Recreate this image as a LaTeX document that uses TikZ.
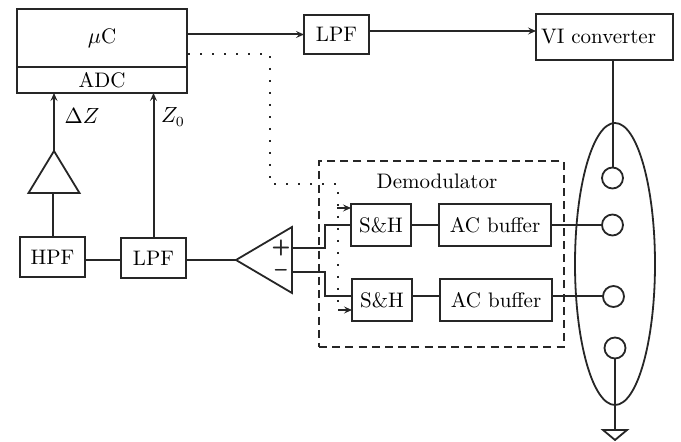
\documentclass[tikz,border=0pt]{standalone}
\usepackage{amsmath}
\usetikzlibrary{shapes,shapes.geometric,arrows.meta}
\usetikzlibrary{positioning,calc}
\tikzset{
	boxNode/.style={
		draw=black!85,
		line width=1pt,
		rectangle,
		inner sep=0pt,
		outer sep=0pt,
		font=\fontsize{10.5}{12}\selectfont
	},
	ampNode/.style={
		draw=black!85,
		line width=0.9pt,
		isosceles triangle,
		isosceles triangle stretches,
		inner sep=0pt,
		outer sep=0pt
	},
	padNode/.style={
		draw=black!85,
		line width=0.9pt,
		circle,
		minimum size=10.5pt,
		inner sep=0pt,
		outer sep=0pt
	},
	sigLine/.style={
		draw=black!85,
		line width=1pt
	},
	sigArrow/.style={
		sigLine,
		-{Stealth[length=4pt, width=3.5pt, inset=1.5pt]}
	},
	clkDots/.style={
		draw=black!85,
		line width=0.8pt,
		dash pattern=on 0.8pt off 5.2pt
	},
	clkArrow/.style={
		draw=black!85,
		line width=0.6pt,
		-{Stealth[length=4pt, width=3.5pt, inset=1.5pt]}
	},
	labelNode/.style={
		inner sep=0pt,
		font=\fontsize{10.5}{12}\selectfont
	},
	signNode/.style={
		text=black!85,
		inner sep=0pt,
		font=\sffamily\bfseries\fontsize{11}{11}\selectfont
	},
}
\begin{document}
\begin{tikzpicture}[x=0.5pt, y=-0.5pt]
\useasboundingbox (0,0) rectangle (681,442);

% controller and top row
\node[boxNode, minimum width=85pt, minimum height=29pt] (uC) at (102,38){$\mu$C};
\node[boxNode, minimum width=85pt, minimum height=13pt] (ADC) at (102,80){ADC};
\node[boxNode, minimum width=32.5pt, minimum height=19.5pt] (topLPF) at (336.5,34.5){LPF};
\node[boxNode, inner xsep=2.5pt, text width=63.5pt, align=left, minimum height=23pt] (VI) at (604.5,37){VI converter};
\coordinate (VIin) at (536,31);

% front end
\node[boxNode, minimum width=32.5pt, minimum height=20pt] (HPF) at (52.5,257){HPF};
\node[boxNode, minimum width=32.5pt, minimum height=20pt] (LPF) at (153.5,258){LPF};
\node[ampNode, shape border rotate=90, minimum width=25.5pt, minimum height=21pt, anchor=apex] (ampSmall) at (54,151){};
\node[ampNode, shape border rotate=180, minimum width=33pt, minimum height=28pt, anchor=apex] (ampBig) at (236,260){};
\node[signNode] (plusSign) at (281,248){+};
\node[signNode] (minusSign) at (281,273){--};
\coordinate (ampP) at (292,248);
\coordinate (ampM) at (292,272);
\coordinate (bend) at (325,260);

% demodulator
\node[draw=black!85, line width=1pt, dash pattern=on 4pt off 2.6pt, rectangle, inner sep=0pt, minimum width=122.5pt, minimum height=93pt] (demod) at (441.5,254){};
\node[labelNode] (demodLabel) at (437,181){Demodulator};
\node[boxNode, minimum width=30pt, minimum height=21pt] (SH1) at (381,225){S\&H};
\node[boxNode, minimum width=30pt, minimum height=21pt] (SH2) at (382,300){S\&H};
\node[boxNode, minimum width=56pt, minimum height=21pt] (AC1) at (495,225){AC buffer};
\node[boxNode, minimum width=56pt, minimum height=21pt] (AC2) at (496,300){AC buffer};
\coordinate (lowRow) at (412,296.5);

% electrodes
\node[draw=black!85, line width=0.9pt, ellipse, inner sep=0pt, minimum width=40pt, minimum height=141pt] (body) at (615,264){};
\node[padNode] (pad1) at (612.5,178){};
\node[padNode] (pad2) at (612.5,225){};
\node[padNode] (pad3) at (613.5,296.5){};
\node[padNode] (pad4) at (615,348){};
\node[ampNode, shape border rotate=270, minimum width=12pt, minimum height=5pt, anchor=apex] (gnd) at (615,440){};

% labels
\node[labelNode] (dZ) at (82,116){$\Delta Z$};
\node[labelNode] (zZero) at (173,117){$Z_0$};

% signal lines
\draw[sigArrow] (uC.east |- topLPF.west) -- (topLPF.west);
\draw[sigArrow] (topLPF.east |- VIin) -- (VIin);
\draw[sigLine] (pad1.north |- VI.south) -- (pad1.north);
\draw[sigLine] (HPF.north) -- (HPF.north |- ampSmall.lower side);
\draw[sigArrow] (ampSmall.apex) -- (ampSmall.apex |- ADC.south);
\draw[sigArrow] (LPF.north) -- (LPF.north |- ADC.south);
\draw[sigLine] (HPF.east |- ampBig.apex) -- (LPF.west |- ampBig.apex);
\draw[sigLine] (LPF.east |- ampBig.apex) -- (ampBig.apex);
\draw[sigLine] (ampP) -- (bend |- ampP) -- (bend |- SH1.west) -- (SH1.west);
\draw[sigLine] (ampM) -- (bend |- ampM) -- (bend |- lowRow) -- (SH2.west |- lowRow);
\draw[sigLine] (SH1.east) -- (AC1.west);
\draw[sigLine] (SH2.east |- lowRow) -- (AC2.west |- lowRow);
\draw[sigLine] (AC1.east) -- (pad2.west);
\draw[sigLine] (AC2.east |- lowRow) -- (pad3.west);
\draw[sigLine] (pad4.south) -- (gnd.lower side);

% clock path
\coordinate (clkA) at (188,54);
\coordinate (clkB) at (270,54);
\coordinate (clkC) at (270,184);
\coordinate (clkD) at (338,184);
\coordinate (clkE) at (338,310);
\coordinate (tapA) at (337,208);
\coordinate (tapB) at (338,310);
\draw[clkDots] (clkA) -- (clkB) -- (clkC) -- (clkD) -- (clkE);
\draw[clkArrow] (tapA) -- (tapA -| SH1.west);
\draw[clkArrow] (tapB) -- (tapB -| SH2.west);

\end{tikzpicture}
\end{document}
